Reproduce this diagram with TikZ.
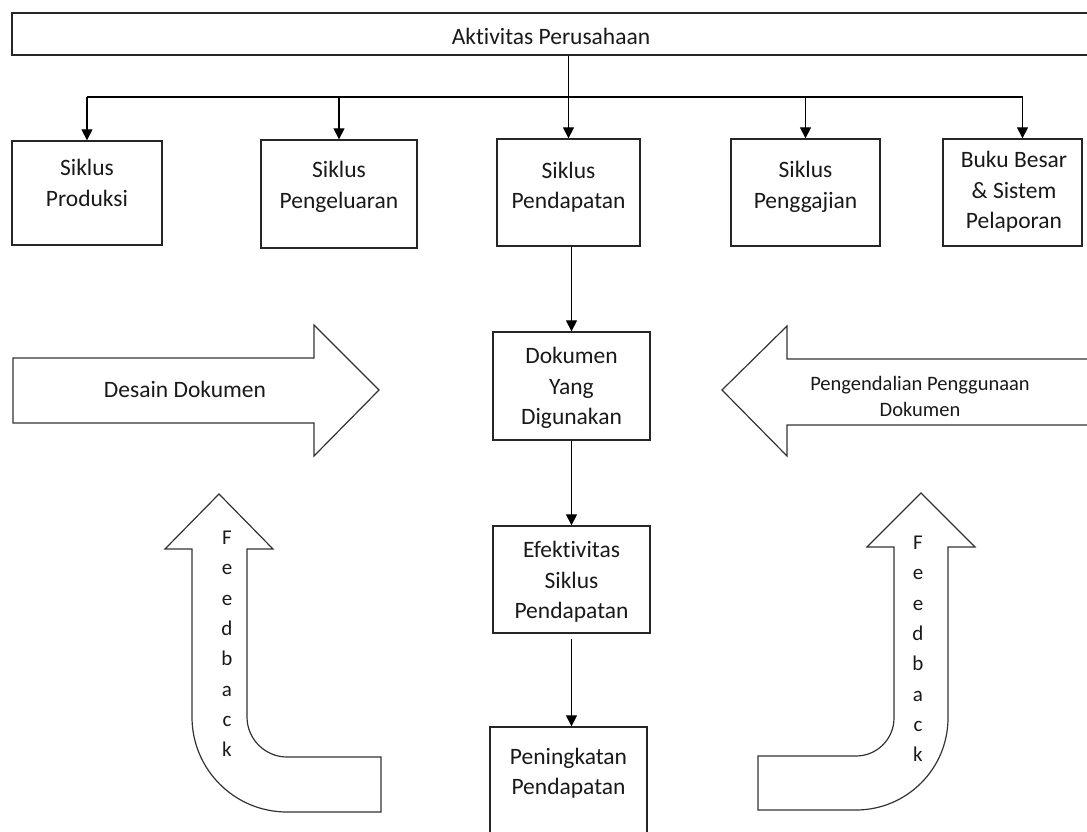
\documentclass[tikz,border=0pt]{standalone}
\usepackage{fontspec}
\setmainfont{Carlito}[Ligatures=NoCommon]
\usetikzlibrary{arrows.meta}

\begin{document}
\begin{tikzpicture}[x=1pt, y=-1pt,
    kotak/.style={draw=black!85, line width=1.3pt, inner sep=0pt},
    tulisan/.style={align=center, inner sep=0pt, text=black!90, font=\fontsize{23.5}{30.5}\selectfont},
    kecil/.style={align=center, inner sep=0pt, text=black!90, font=\fontsize{20.5}{26}\selectfont},
    huruf/.style={align=center, inner sep=0pt, text=black!90, font=\fontsize{21}{30.3}\selectfont},
    panah/.style={line width=1.2pt, -{Triangle[length=11pt,width=11pt]}},
    bentuk/.style={draw=black!80, line width=1.2pt}
    ]
    \useasboundingbox (0,0) rectangle (1087,832);
    \clip (0,0) rectangle (1087,832);

    \node[kotak, minimum width=1088pt, minimum height=42pt] (aktivitas) at (556,34) {};
    \node[tulisan] (aktivitasT) at (551,36) {Aktivitas Perusahaan};

    \node[kotak, minimum width=150pt, minimum height=104pt] (produksi) at (87,193) {};
    \node[tulisan] (produksiT) at (87,183) {Siklus\\Produksi};
    \node[kotak, minimum width=156pt, minimum height=108pt] (pengeluaran) at (339,194) {};
    \node[tulisan] (pengeluaranT) at (339,187) {Siklus\\Pengeluaran};
    \node[kotak, minimum width=143pt, minimum height=107pt] (pendapatan) at (568.5,192.5) {};
    \node[tulisan] (pendapatanT) at (568.5,187) {Siklus\\Pendapatan};
    \node[kotak, minimum width=149pt, minimum height=107pt] (penggajian) at (805.5,192.5) {};
    \node[tulisan] (penggajianT) at (805.5,187) {Siklus\\Penggajian};
    \node[kotak, minimum width=139pt, minimum height=107pt] (buku) at (1012.5,192.5) {};
    \node[tulisan] (bukuT) at (1014,192) {Buku Besar\\\& Sistem\\Pelaporan};

    \node[kotak, minimum width=157pt, minimum height=108pt] (dokumen) at (571.5,386) {};
    \node[tulisan] (dokumenT) at (571.5,388) {Dokumen\\Yang\\Digunakan};
    \node[kotak, minimum width=157pt, minimum height=107pt] (efektivitas) at (571.5,579.5) {};
    \node[tulisan] (efektivitasT) at (571.5,582) {Efektivitas\\Siklus\\Pendapatan};
    \node[kotak, minimum width=157pt, minimum height=140pt] (peningkatan) at (568.5,797) {};
    \node[tulisan] (peningkatanT) at (568.5,773) {Peningkatan\\Pendapatan};

    \coordinate (cabang) at (0,97);
    \coordinate (bukuA) at ([xshift=10pt]buku.north);
    \draw[line width=1.2pt] (produksi.north |- cabang) -- (bukuA |- cabang);
    \draw[panah] (aktivitas.south -| pendapatan.north) -- (pendapatan.north);
    \foreach \k in {produksi, pengeluaran, penggajian}
      \draw[panah] (\k.north |- cabang) -- (\k.north);
    \draw[panah] (bukuA |- cabang) -- (bukuA);
    \draw[panah] (pendapatan.south -| dokumen.north) -- (dokumen.north);
    \draw[panah] (dokumen.south) -- (efektivitas.north);
    \draw[panah] ([yshift=-5pt]efektivitas.south) -- (efektivitas.south |- peningkatan.north);

    \draw[bentuk] (13,358) -- (314,358) -- (314,325) -- (379,390) -- (314,456) -- (314,423) -- (13,423) -- cycle;
    \node[tulisan] (desain) at (185,389) {Desain Dokumen};
    \draw[bentuk] (1100,359) -- (787,359) -- (787,326) -- (722,390) -- (787,456) -- (787,425) -- (1100,425);
    \node[kecil] (pengendalian) at (920,396) {Pengendalian Penggunaan\\Dokumen};

    \draw[bentuk] (219,494) -- (273,549) -- (247,549) -- (247,717)
      .. controls (247,739) and (265,757) .. (287,757) -- (381,757) -- (381,812) -- (287,812)
      .. controls (234.5,812) and (192,769.5) .. (192,717) -- (192,549) -- (165,549) -- cycle;
    \node[huruf] (umpanKiri) at (227,644) {F\\e\\e\\d\\b\\a\\c\\k};
    \draw[bentuk] (921,493) -- (975,547) -- (948,547) -- (948,718)
      .. controls (948,768.8) and (906.8,810) .. (856,810) -- (758,810) -- (758,756) -- (856,756)
      .. controls (877,756) and (894,739) .. (894,718) -- (894,547) -- (867,547) -- cycle;
    \node[huruf] (umpanKanan) at (918,649) {F\\e\\e\\d\\b\\a\\c\\k};
\end{tikzpicture}
\end{document}
